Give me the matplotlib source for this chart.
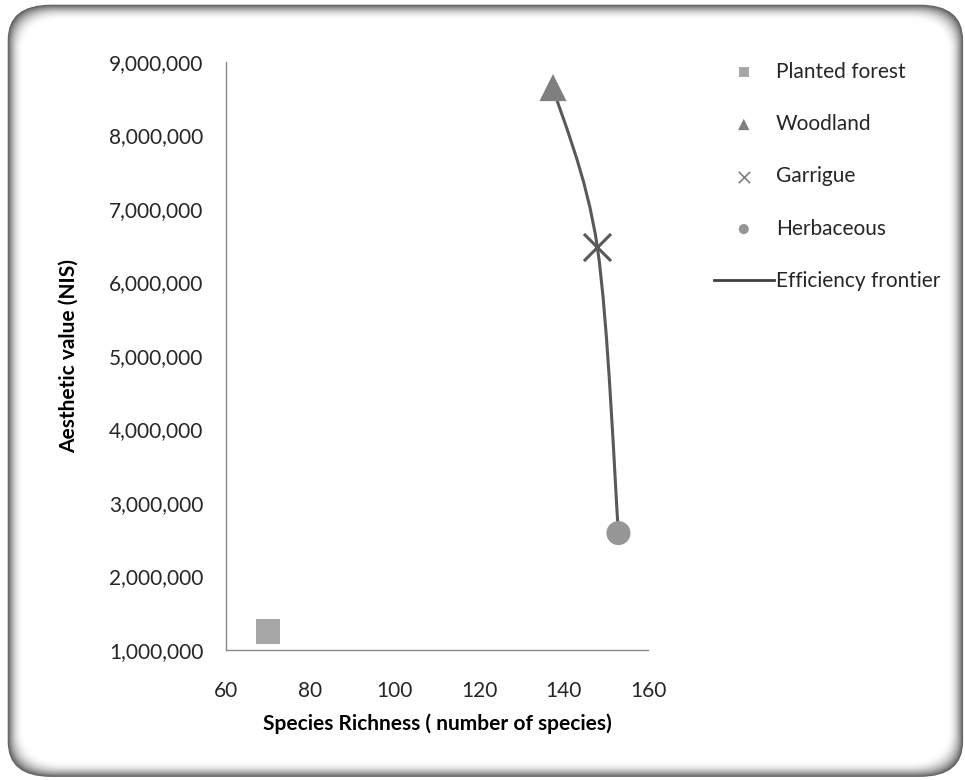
import matplotlib.pyplot as plt
import numpy as np
from matplotlib.patches import FancyBboxPatch
from matplotlib.path import Path
from matplotlib.patches import PathPatch
from matplotlib.ticker import FuncFormatter

plt.rcParams['font.family'] = ['Lato', 'DejaVu Sans']

# data
habitats = ['Planted forest', 'Woodland', 'Garrigue', 'Herbaceous']
richness = [70, 137.5, 148, 153]
aesthetic = [1250000, 8650000, 6480000, 2590000]
# frontier goes through these habitats
frontier = ['Woodland', 'Garrigue', 'Herbaceous']

markers = ['s', '^', 'x', 'o']
colors = ['#a6a6a6', '#7f7f7f', '#595959', '#969696']
sizes = [320, 380, 380, 300]

fig = plt.figure(figsize=(9.65, 7.8), dpi=100)

# rounded frame with soft inner shadow
N = 18
for i in range(N):
    inset = i * 0.0009
    shade = 1 - 0.62 * (1 - i / (N - 1)) ** 2
    box = FancyBboxPatch((0.008 + inset, 0.004 + inset * 1.24),
                         0.99 - 2 * inset, 0.99 - 2 * inset * 1.24,
                         boxstyle="round,pad=0,rounding_size=0.045",
                         transform=fig.transFigure, facecolor=str(shade),
                         edgecolor='none', zorder=-10 + i * 0.01)
    fig.patches.append(box)

ax = fig.add_axes([0.234, 0.1667, 0.4375, 0.754])
ax.set_facecolor('none')

for name, x, y, m, c, s in zip(habitats, richness, aesthetic, markers, colors, sizes):
    if m == 'x':
        ax.scatter(x, y, marker=m, s=s, color=c, linewidths=2.2, zorder=4, label=name)
    else:
        ax.scatter(x, y, marker=m, s=s, color=c, edgecolors='none', zorder=4, label=name)

ax.set_xlim(60, 160)
ax.set_ylim(1000000, 9000000)

# smooth line (cardinal bezier like excel) through the frontier points
idx = [habitats.index(h) for h in frontier]
fx = np.array([richness[i] for i in idx])
fy = np.array([aesthetic[i] for i in idx])
# work in display coords so smoothing looks right
pts = ax.transData.transform(np.column_stack([fx, fy]))
verts = [pts[0]]
codes = [Path.MOVETO]
t = 1.0 / 6.0
n = len(pts)
for k in range(n - 1):
    p0 = pts[k - 1] if k > 0 else pts[k]
    p1 = pts[k]
    p2 = pts[k + 1]
    p3 = pts[k + 2] if k + 2 < n else pts[k + 1]
    c1 = p1 + (p2 - p0) * t
    c2 = p2 - (p3 - p1) * t
    verts += [c1, c2, p2]
    codes += [Path.CURVE4] * 3
vdata = ax.transData.inverted().transform(np.array(verts))
curve = PathPatch(Path(vdata, codes), facecolor='none', edgecolor='#595959',
                  linewidth=2.2, zorder=3)
ax.add_patch(curve)
ax.plot([], [], color='#404040', linewidth=2, label='Efficiency frontier')

ax.set_xticks([60, 80, 100, 120, 140, 160])
ax.set_yticks(np.arange(1000000, 9000001, 1000000))
ax.yaxis.set_major_formatter(FuncFormatter(lambda v, p: f"{int(v):,}"))
ax.tick_params(length=0, labelsize=15, colors='#262626')
ax.tick_params(axis='y', pad=16)
ax.tick_params(axis='x', pad=22)
for side in ['top', 'right']:
    ax.spines[side].set_visible(False)
for side in ['left', 'bottom']:
    ax.spines[side].set_color('#888888')
    ax.spines[side].set_linewidth(1)

ax.set_xlabel('Species Richness ( number of species)', fontsize=15,
              fontweight='bold', labelpad=9)
ax.set_ylabel('Aesthetic value (NIS)', fontsize=15, fontweight='bold', labelpad=22)

h, l = ax.get_legend_handles_labels()
leg = fig.legend(h, l, loc='upper left', bbox_to_anchor=(0.72, 0.945),
                 frameon=False, fontsize=15, labelspacing=1.55,
                 handlelength=2.9, handletextpad=0.1, markerscale=0.42)
# thin, light cross in the legend like the original
leg.legend_handles[2].set_linewidths(1.2)
leg.legend_handles[2].set_color('#7f7f7f')
for txt in leg.get_texts():
    txt.set_color('#262626')

fig.savefig('out.png', dpi=100)
